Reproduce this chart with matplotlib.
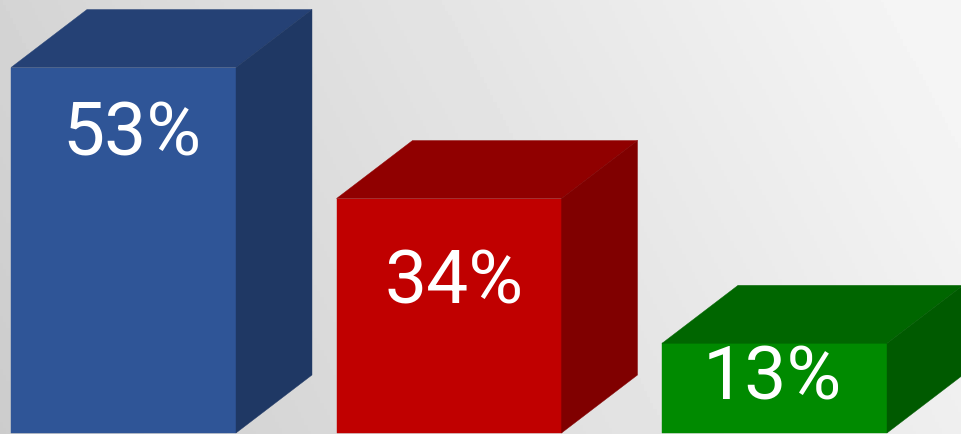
import numpy as np
import matplotlib
matplotlib.use("Agg")
import matplotlib.pyplot as plt
from matplotlib.patches import Rectangle, Polygon

categories = ["A", "B", "C"]
values = [53, 34, 13]
labels = ["53%", "34%", "13%"]
front = ["#2f5597", "#c00000", "#008a00"]
top = ["#254175", "#900000", "#006600"]
side = ["#1f3864", "#800000", "#005a00"]

W, H = 961, 435
fig = plt.figure(figsize=(W/100, H/100), dpi=100)
bg = fig.add_axes([0, 0, 1, 1])
bg.axis("off")
x = np.linspace(0, 1, 300)
y = np.linspace(0, 1, 140)
X, Y = np.meshgrid(x, y)
G = 0.80 + 0.16 * np.clip((X * 0.85 + Y * 0.2), 0, 1)
bg.imshow(G, cmap="gray", vmin=0, vmax=1, origin="lower", extent=[0, 1, 0, 1], aspect="auto")

ax = fig.add_axes([0, 0, 1, 1])
ax.set_xlim(0, W)
ax.set_ylim(H, 0)
ax.axis("off")
ax.patch.set_alpha(0)

base = 434
scale = (base - 68.5) / 53
lefts = [11, 336.5, 662]
bw = 225
dx, dy = 76, 58
text_y = [135, 283, 379]
text_x = [132, 454, 772]
for i, v in enumerate(values):
    h = v * scale
    l = lefts[i]
    t = base - h
    ax.add_patch(Rectangle((l, t), bw, h, fc=front[i], ec=front[i], lw=0.3))
    ax.add_patch(Polygon([(l, t), (l+dx, t-dy), (l+bw+dx, t-dy), (l+bw, t)], fc=top[i], ec=top[i], lw=0.3))
    ax.add_patch(Polygon([(l+bw, t), (l+bw+dx, t-dy), (l+bw+dx, base-dy), (l+bw, base)], fc=side[i], ec=side[i], lw=0.3))
    ax.text(text_x[i], text_y[i], labels[i], color="white", fontsize=54, family="Roboto", ha="center", va="center")
fig.savefig("out.png", dpi=100)
